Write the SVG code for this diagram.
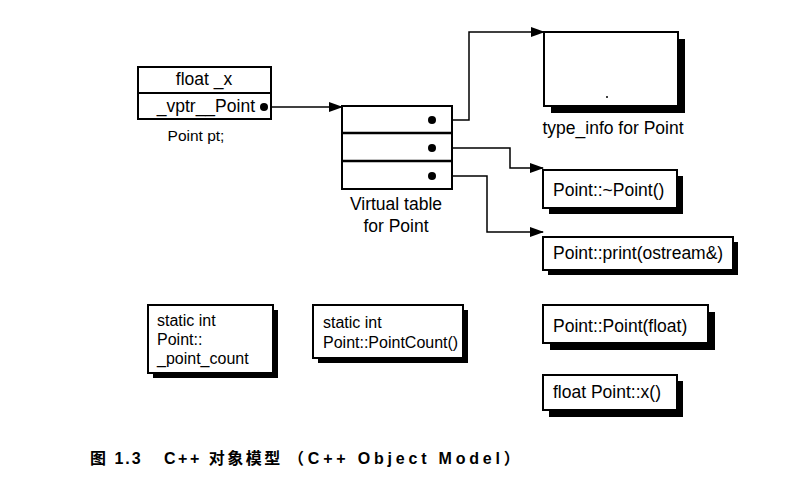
<svg xmlns="http://www.w3.org/2000/svg" width="809" height="486" viewBox="0 0 809 486">
<style>
  .t { font-family: "Liberation Sans", Arial, sans-serif; font-size: 17.5px; fill: #000; }
  .s { font-size: 16px; }
  .box { fill: #fff; stroke: #000; stroke-width: 2; }
  .shadow { fill: #000; }
  .conn { fill: none; stroke: #000; stroke-width: 1.5; }
  .cap { font-family: "Liberation Sans", "Noto Sans CJK SC", sans-serif; font-size: 16px; font-weight: bold; fill: #000; }
</style>
<defs>
  <marker id="arr" markerWidth="14" markerHeight="10" refX="13" refY="5" orient="auto" markerUnits="userSpaceOnUse">
    <path d="M0,0 L14,5 L0,10 Z" fill="#000"/>
  </marker>
</defs>
<rect width="809" height="486" fill="#fff"/>

<g id="connectors">
  <path class="conn" d="M264,107 H342" marker-end="url(#arr)"/>
  <path class="conn" d="M432,120 H469 V32 H544" marker-end="url(#arr)"/>
  <path class="conn" d="M432,148 H510 V168 H543" marker-end="url(#arr)"/>
  <path class="conn" d="M432,176 H487 V232 H543" marker-end="url(#arr)"/>
</g>

<g id="object">
  <rect class="box" x="138" y="67" width="133" height="52"/>
  <line x1="138" y1="93" x2="271" y2="93" stroke="#000" stroke-width="2"/>
  <text class="t" x="204" y="85" text-anchor="middle">float _x</text>
  <text class="t" x="255" y="112" text-anchor="end">_vptr__Point</text>
  <circle cx="264" cy="107" r="4"/>
  <text class="t" x="196" y="141" text-anchor="middle" style="font-size:15.5px">Point pt;</text>
</g>

<g id="vtable">
  <rect class="box" x="342" y="106" width="110" height="83"/>
  <line x1="342" y1="133" x2="452" y2="133" stroke="#000" stroke-width="2.5"/>
  <line x1="342" y1="161" x2="452" y2="161" stroke="#000" stroke-width="2.5"/>
  <circle cx="432" cy="120" r="4"/>
  <circle cx="432" cy="148" r="4"/>
  <circle cx="432" cy="176" r="4"/>
  <text class="t" x="396" y="210" text-anchor="middle">Virtual table</text>
  <text class="t" x="396" y="232" text-anchor="middle">for Point</text>
</g>

<g id="type_info">
  <rect class="shadow" x="551" y="39" width="134" height="74"/>
  <rect class="box" x="544" y="32" width="134" height="74"/>
  <circle cx="607" cy="97" r="1" fill="#000"/>
  <text class="t" x="613" y="134" text-anchor="middle">type_info for Point</text>
</g>

<g id="dtor">
  <rect class="shadow" x="549" y="176" width="134" height="38"/>
  <rect class="box" x="543" y="170" width="134" height="38"/>
  <text class="t" x="553" y="196">Point::~Point()</text>
</g>

<g id="print">
  <rect class="shadow" x="548" y="242" width="190" height="33"/>
  <rect class="box" x="543" y="237" width="190" height="33"/>
  <text class="t" x="553" y="259">Point::print(ostream&amp;)</text>
</g>

<g id="ctor">
  <rect class="shadow" x="550" y="312" width="165" height="38"/>
  <rect class="box" x="543" y="305" width="165" height="38"/>
  <text class="t" x="553" y="332">Point::Point(float)</text>
</g>

<g id="getx">
  <rect class="shadow" x="549" y="381" width="134" height="36"/>
  <rect class="box" x="543" y="375" width="134" height="35"/>
  <text class="t" x="553" y="398">float Point::x()</text>
</g>

<g id="static_count">
  <rect class="shadow" x="153" y="310" width="125" height="68"/>
  <rect class="box" x="148" y="305" width="125" height="68"/>
  <text class="t s" x="157" y="326">static int</text>
  <text class="t s" x="157" y="345">Point::</text>
  <text class="t s" x="157" y="364">_point_count</text>
</g>

<g id="static_func">
  <rect class="shadow" x="318" y="310" width="150" height="53"/>
  <rect class="box" x="313" y="305" width="150" height="53"/>
  <text class="t s" x="323" y="328">static int</text>
  <text class="t s" x="323" y="348">Point::PointCount()</text>
</g>

<g id="caption">
  <text class="cap" x="90" y="464" style="letter-spacing:2px">图 1.3</text>
  <text class="cap" x="164" y="464" style="letter-spacing:2.5px">C++ 对象模型</text>
  <text class="cap" x="288" y="464" style="letter-spacing:3.8px">（C++ Object Model）</text>
</g>
</svg>
